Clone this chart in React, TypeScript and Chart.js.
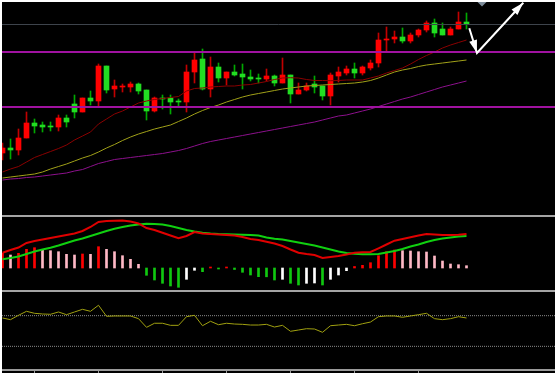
import React, { useEffect, useRef } from 'react';
import { Chart, registerables } from 'chart.js';
Chart.register(...registerables);

// ---------- DATA ----------
const candleIdx = [0,1,2,3,4,5,6,7,8,9,10,11,12,13,14,15,16,17,18,19,20,21,22,23,24,25,26,27,28,29,30,31,32,33,34,35,36,37,38,39,40,41,42,43,44,45,46,47,48,49,50,51,52,53,54,55,56,57,58];
const opens = [61,66,64,76,91,89,88,87,96,110,102,116,113,148,125,127,127,130,124,103,116,116,113,112,142,155,125,147,136,142,140,137,136,135,138,131,139,120,124,130,128,118,138,141,145,141,146,151,174,175,177,173,179,184,191,185,179,185,192];
const highs = [71,75,85,102,95,92,92,99,99,119,116,123,150,148,134,130,132,131,124,117,119,119,115,149,161,165,157,151,142,149,150,144,140,145,139,156,139,131,131,138,128,141,147,148,151,148,154,181,187,183,186,181,185,193,195,191,187,202,201];
const lows = [54,55,59,76,81,82,83,83,87,96,102,109,107,121,117,122,122,120,94,102,105,100,107,102,131,124,117,132,129,138,125,133,131,133,128,131,111,120,123,121,114,109,132,139,136,139,144,147,163,171,171,171,177,182,177,179,179,185,185];
const closes = [66,64,76,91,88,87,87,96,92,102,116,113,148,124,128,128,130,123,103,116,115,112,112,142,154,125,147,136,142,139,137,135,135,138,131,139,120,124,128,127,118,139,142,145,141,147,151,174,175,177,173,179,184,191,181,179,185,192,190];

const maFast = [42,45,47.5,52,56.5,59.5,62.5,65.5,69,74,78,82,90,95,100,103,107,111,113,114.5,115.5,116.5,117.5,123,125.5,126,127,127.5,128,128,129,129.5,131,132.5,134.5,136,136.3,136,134.5,133.5,133.5,133.3,133.5,134,134,134,136,138,141,143.5,146,150,154.5,158.5,162,166,169,171.5,174];
const maMid = [36,37,38,39,40,42,45,47.5,50,53,56,58.5,62,66,69.5,73.5,77,80,82.5,85,87,89,92.5,96,100,103.5,106.5,109,112,114.5,117,119,120.5,122,123.5,125,126,127,128,128.5,129,129.5,130,130.5,131,132,133.5,136,139,142,144,145.5,147.5,149,150,151,152,153,154];
const maSlow = [34,35,35.5,36.5,37,38,39,40,41,43,44.5,47.5,50.5,52.5,54.5,55.5,56.5,57.5,58.5,59.5,60.5,62,63.5,65.5,68,70.5,72.5,74,75.5,77,78.5,80,81.5,83,84.5,86,87.5,89,90.5,92,94,96,98,99,101,103,105,107.5,110,112.5,115,117,119.5,122,124.5,127,129,131,133];

const levelValues = [189.5, 162, 107];
const levelColors = ['#3e444c', '#a012a0', '#a012a0'];
const levelWidths = [1, 2, 2];

const arrowX = [58.35, 59.31, 65.1];
const arrowY = [185.7, 161, 211.3];
const markerX = [59.94];
const markerY = [214];

const macdDif = [15.3,18,20.5,25,27,28.5,30,31.5,33,34.5,37,41,46,47,47.3,47.5,46.5,44.5,40,38,35.3,32.5,29.7,32,36,34.5,34,33.5,33,32.5,31,29,28,26.3,24.5,22,18.5,15.3,14,13,10,11,12,13.5,15.3,15.7,16,19.7,23.5,27.3,29,30.7,32.5,34,33.5,33,33,33.3,34];
const macdDea = [8.7,10,11.5,14,16.5,18.5,20.2,22.5,25,27.5,29.5,32,34.5,37,39.2,41,42.5,43.5,44.3,44,43.5,42,40,38,36.5,35.3,34.5,34,33.8,33.5,33.2,33,32.5,30.5,29.2,28.5,27,25.5,24,22.5,20.5,18.5,16.5,15,14.2,13.7,13.7,14,15.5,17,19,21.5,23.5,26,28,29.5,30.5,31.5,32];
const macdHist = [14.7,13,14.7,18.7,20.3,18.7,17.3,16.3,13.7,13,14,13.7,21.3,18.7,16.3,12.3,8.7,3.7,-7.3,-12,-15.3,-18,-19.3,-11.3,-2.3,-3.7,1,-1,1,-1.5,-4.3,-7,-8.7,-8.8,-12,-11.3,-15.3,-17,-15.3,-15,-17,-11.3,-7,-2.7,1.5,2.7,5.3,12.3,16.3,18,17.3,17,16.3,16,12,7,4,3.3,2.3];

const rsi = [67,64.8,70.5,75.7,73.1,72.2,71.8,74.8,71.3,74.8,78.3,75.7,83.6,69.2,69.6,69.6,69.6,66.1,54.8,60.1,60.1,57.4,57.4,68.7,70.5,56.9,62.7,58.2,60.1,59.1,58.7,57.8,57.8,58.7,55.2,57.4,49.6,51.3,53,52.6,48.3,56.9,57.8,58.7,56.9,59.5,61.7,68.7,69.6,69.6,67.9,69.6,71.3,73.1,66.1,64.8,66.1,68.7,67];
const rsiLevels = [70, 30];
const xTicks = [4, 12, 20, 28, 36, 44, 52];

// ---------- LAYOUT ----------
const X_MIN = -0.0625;
const X_MAX = 69.0625;
const W = 553;

const UP = '#ff0000';
const DOWN = '#22dd22';
const UP_WICK = '#c00000';
const DOWN_WICK = '#00a800';

const arrowPlugin = {
  id: 'arrowHeads',
  afterDatasetsDraw(chart: any) {
    const ctx = chart.ctx;
    chart.data.datasets.forEach((ds: any, i: number) => {
      if (!ds.isArrow) return;
      const pts = chart.getDatasetMeta(i).data;
      for (let j = 1; j < pts.length; j++) {
        const a = pts[j - 1];
        const b = pts[j];
        const ang = Math.atan2(b.y - a.y, b.x - a.x);
        const L = 13;
        const H = 4;
        const bx = b.x - L * Math.cos(ang);
        const by = b.y - L * Math.sin(ang);
        ctx.save();
        ctx.fillStyle = ds.borderColor;
        ctx.beginPath();
        ctx.moveTo(b.x, b.y);
        ctx.lineTo(bx + H * Math.sin(ang), by - H * Math.cos(ang));
        ctx.lineTo(bx - H * Math.sin(ang), by + H * Math.cos(ang));
        ctx.closePath();
        ctx.fill();
        ctx.restore();
      }
    });
  },
};

function xs(extra: any = {}) {
  return { type: 'linear', min: X_MIN, max: X_MAX, display: false, offset: false, grid: { offset: false }, ...extra };
}

const baseOptions = {
  animation: false,
  responsive: false,
  events: [],
  layout: { padding: 0, autoPadding: false },
  plugins: { legend: { display: false }, tooltip: { enabled: false } },
};

export default function App() {
  const mainRef = useRef<HTMLCanvasElement>(null);
  const macdRef = useRef<HTMLCanvasElement>(null);
  const rsiRef = useRef<HTMLCanvasElement>(null);

  useEffect(() => {
    const isUp = candleIdx.map((i) => closes[i] >= opens[i]);
    const levelSets = levelValues.map((v, i) => ({
      type: 'line',
      data: [{ x: X_MIN, y: v }, { x: X_MAX, y: v }],
      borderColor: levelColors[i],
      borderWidth: levelWidths[i],
      pointRadius: 0,
      order: 1,
    }));
    const maLine = (vals: number[], color: string) => ({
      type: 'line',
      data: candleIdx.map((i) => ({ x: i, y: vals[i] })),
      borderColor: color,
      borderWidth: 1,
      pointRadius: 0,
      tension: 0,
      order: 2,
    });
    const main = new Chart(mainRef.current!, {
      type: 'bar',
      data: {
        datasets: [
          {
            type: 'line',
            isArrow: true,
            data: arrowX.map((x, i) => ({ x, y: arrowY[i] })),
            borderColor: '#ffffff',
            borderWidth: 2,
            pointRadius: 0,
            order: 0,
          } as any,
          {
            type: 'line',
            data: markerX.map((x, i) => ({ x, y: markerY[i] })),
            showLine: false,
            pointStyle: 'rectRot',
            pointRadius: 6.5,
            pointBackgroundColor: '#7d8c9a',
            pointBorderWidth: 0,
            clip: false,
            order: 0,
          } as any,
          ...levelSets,
          maLine(maFast, '#8a0000'),
          maLine(maMid, '#a0a018'),
          maLine(maSlow, '#8c108c'),
          {
            type: 'bar',
            data: candleIdx.map((i) => ({ x: i, y: [Math.min(opens[i], closes[i]), Math.max(opens[i], closes[i])] })),
            backgroundColor: isUp.map((u) => (u ? UP : DOWN)),
            borderWidth: 0,
            barThickness: 5,
            minBarLength: 1,
            grouped: false,
            order: 3,
          } as any,
          {
            type: 'bar',
            data: candleIdx.map((i) => ({ x: i, y: [lows[i], highs[i]] })),
            backgroundColor: isUp.map((u) => (u ? UP_WICK : DOWN_WICK)),
            borderWidth: 0,
            barThickness: 1,
            grouped: false,
            order: 4,
          } as any,
        ],
      },
      options: {
        ...baseOptions,
        scales: {
          x: xs() as any,
          y: { type: 'linear', min: -1, max: 212, display: false },
        },
      },
      plugins: [arrowPlugin],
    } as any);

    const histColors = macdHist.map((v, i) => {
      const prev = i > 0 ? macdHist[i - 1] : -Infinity;
      if (v >= 0) return v >= prev ? '#ff0000' : '#ffb8c6';
      return v < prev ? '#10c810' : '#ffffff';
    });
    const macd = new Chart(macdRef.current!, {
      type: 'bar',
      data: {
        datasets: [
          {
            type: 'line',
            data: candleIdx.map((i) => ({ x: i, y: macdDif[i] })),
            borderColor: '#e00000',
            borderWidth: 2,
            pointRadius: 0,
            order: 0,
          } as any,
          {
            type: 'line',
            data: candleIdx.map((i) => ({ x: i, y: macdDea[i] })),
            borderColor: '#10d010',
            borderWidth: 2,
            pointRadius: 0,
            order: 1,
          } as any,
          {
            type: 'bar',
            data: candleIdx.map((i) => ({ x: i, y: macdHist[i] })),
            backgroundColor: histColors,
            borderWidth: 0,
            barThickness: 2,
            grouped: false,
            order: 2,
          } as any,
        ],
      },
      options: {
        ...baseOptions,
        scales: {
          x: xs() as any,
          y: { type: 'linear', min: -22, max: 51, display: false },
        },
      },
    } as any);

    const rsiChart = new Chart(rsiRef.current!, {
      type: 'line',
      data: {
        datasets: [
          {
            data: candleIdx.map((i) => ({ x: i, y: rsi[i] })),
            borderColor: '#a0a010',
            borderWidth: 1,
            pointRadius: 0,
            order: 0,
          },
          ...rsiLevels.map((v) => ({
            data: [{ x: X_MIN, y: v }, { x: X_MAX, y: v }],
            borderColor: '#8a8a8a',
            borderWidth: 1,
            borderDash: [1, 1],
            pointRadius: 0,
            order: 1,
          })),
        ],
      },
      options: {
        ...baseOptions,
        scales: {
          x: {
            type: 'linear',
            min: X_MIN,
            max: X_MAX,
            offset: false,
            display: true,
            afterBuildTicks: (scale: any) => {
              scale.ticks = xTicks.map((v) => ({ value: v }));
            },
            grid: { display: true, drawOnChartArea: false, drawTicks: true, tickLength: 3, color: '#9a9a9a', lineWidth: 1 },
            border: { display: true, color: '#9a9a9a', width: 2 },
            ticks: { display: false },
          },
          y: { type: 'linear', min: -0.9, max: 100.9, display: false },
        },
      },
    } as any);

    return () => {
      main.destroy();
      macd.destroy();
      rsiChart.destroy();
    };
  }, []);

  const abs = (l: number, t: number, w: number, h: number, bg?: string): React.CSSProperties => ({
    position: 'absolute', left: l, top: t, width: w, height: h, background: bg, display: 'block',
  });

  return (
    <div style={{ position: 'fixed', left: 0, top: 0, width: 558, height: 373, background: '#ffffff', overflow: 'hidden' }}>
      <div style={abs(2, 2, W, 371, '#000000')} />
      <canvas ref={mainRef} width={W} height={213} style={abs(2, 2, W, 213)} />
      <div style={abs(2, 215, W, 2, '#a4a4a4')} />
      <canvas ref={macdRef} width={W} height={73} style={abs(2, 217, W, 73)} />
      <div style={abs(2, 290, W, 2, '#a4a4a4')} />
      <canvas ref={rsiRef} width={W} height={81} style={abs(2, 292, W, 81)} />
    </div>
  );
}
